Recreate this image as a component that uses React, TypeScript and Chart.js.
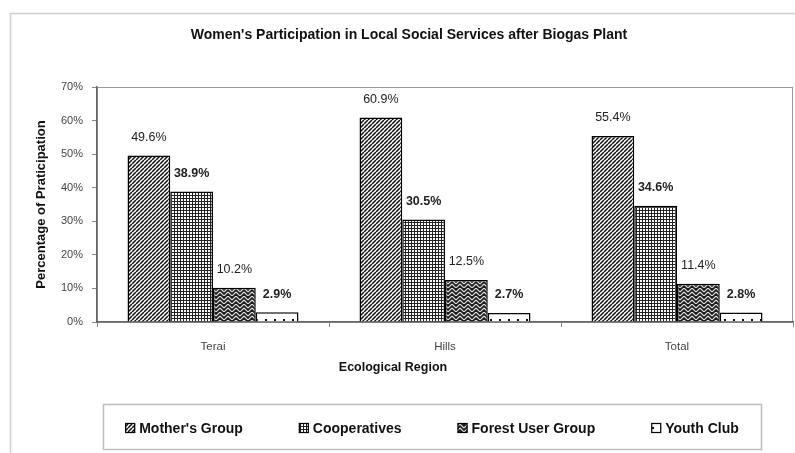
import React, { useEffect, useRef } from "react";
import { Chart, registerables } from "chart.js";

Chart.register(...registerables);

const TITLE = "Women's Participation in Local Social Services after Biogas Plant";
const X_TITLE = "Ecological Region";
const Y_TITLE = "Percentage of Praticipation";

const categories = ["Terai", "Hills", "Total"];
const seriesNames = ["Mother's Group", "Cooperatives", "Forest User Group", "Youth Club"];
const mothersGroup = [49.6, 60.9, 55.4];
const cooperatives = [38.9, 30.5, 34.6];
const forestUserGroup = [10.2, 12.5, 11.4];
const youthClub = [2.9, 2.7, 2.8];
const yTickLabels = ["0%", "10%", "20%", "30%", "40%", "50%", "60%", "70%"];
const labelBold = [false, true, false, true];

const FONT = "'Liberation Sans', Arial, Helvetica, sans-serif";

function makePattern(kind: string): CanvasPattern {
  const c = document.createElement("canvas");
  let s = 5;
  if (kind === "diag") s = 4;
  if (kind === "grid") s = 3;
  if (kind === "weave") s = 8;
  if (kind === "dots") s = 9;
  c.width = s;
  c.height = s;
  const g = c.getContext("2d")!;
  g.fillStyle = "#fff";
  g.fillRect(0, 0, s, s);
  if (kind === "diag") {
    g.strokeStyle = "#111";
    g.lineWidth = 1.5;
    g.beginPath();
    for (const k of [-s, 0, s]) {
      g.moveTo(k, s);
      g.lineTo(k + s, 0);
    }
    g.stroke();
  } else if (kind === "grid") {
    g.fillStyle = "#222";
    g.fillRect(0, 0, s, 1);
    g.fillRect(0, 0, 1, s);
  } else if (kind === "weave") {
    g.fillStyle = "#1e1e1e";
    g.fillRect(0, 0, s, s);
    g.strokeStyle = "#e0e0e0";
    g.lineWidth = 1.1;
    g.beginPath();
    g.moveTo(0, 4); g.lineTo(4, 0);
    g.moveTo(0, 8); g.lineTo(4, 4);
    g.moveTo(4, 0); g.lineTo(8, 4);
    g.moveTo(4, 4); g.lineTo(8, 8);
    g.stroke();
  } else if (kind === "dots") {
    g.fillStyle = "#111";
    g.fillRect(4, 4, 2, 2);
  }
  return g.createPattern(c, "repeat")!;
}

const decor = {
  id: "decor",
  beforeDraw(chart: any) {
    const ctx = chart.ctx as CanvasRenderingContext2D;
    const a = chart.chartArea;
    ctx.save();
    ctx.fillStyle = "#fff";
    ctx.fillRect(0, 0, chart.width, chart.height);
    // outer frame
    ctx.strokeStyle = "#cfcfcf";
    ctx.lineWidth = 1.5;
    ctx.beginPath();
    ctx.moveTo(10.5, chart.height + 5);
    ctx.lineTo(10.5, 13.5);
    ctx.lineTo(chart.width + 5, 13.5);
    ctx.stroke();
    // plot area border
    ctx.strokeStyle = "#999";
    ctx.lineWidth = 1;
    ctx.strokeRect(a.left + 0.5, a.top + 0.5, a.right - a.left - 1, a.bottom - a.top);
    ctx.restore();
  },
  afterDatasetsDraw(chart: any) {
    const ctx = chart.ctx as CanvasRenderingContext2D;
    ctx.save();
    ctx.fillStyle = "#222";
    ctx.textAlign = "center";
    ctx.textBaseline = "middle";
    chart.data.datasets.forEach((ds: any, di: number) => {
      const meta = chart.getDatasetMeta(di);
      ctx.font = `${labelBold[di] ? "bold " : ""}12.5px ${FONT}`;
      meta.data.forEach((el: any, i: number) => {
        const v = ds.data[i];
        ctx.fillText(v.toFixed(1) + "%", el.x, el.y - 18);
      });
    });
    ctx.restore();
  },
  afterDraw(chart: any) {
    const ctx = chart.ctx as CanvasRenderingContext2D;
    ctx.save();
    // title
    ctx.fillStyle = "#111";
    ctx.textAlign = "center";
    ctx.textBaseline = "middle";
    ctx.font = `bold 14px ${FONT}`;
    ctx.fillText(TITLE, 409, 35);
    // x axis title
    ctx.font = `bold 12.5px ${FONT}`;
    ctx.fillText(X_TITLE, 393, 368);
    // legend box
    ctx.strokeStyle = "#bdbdbd";
    ctx.lineWidth = 1.5;
    ctx.strokeRect(103.5, 404.5, 658, 45);
    // legend items
    ctx.font = `bold 14px ${FONT}`;
    const box = 10, gapIcon = 4, gapItem = 56;
    const widths = chart.data.datasets.map((ds: any) => box + gapIcon + ctx.measureText(ds.label).width);
    const total = widths.reduce((s: number, w: number) => s + w, 0) + gapItem * (widths.length - 1);
    let x = 432 - total / 2;
    const cy = 428;
    chart.data.datasets.forEach((ds: any, i: number) => {
      ctx.fillStyle = ds.backgroundColor;
      ctx.fillRect(x, cy - 5, box, box);
      ctx.strokeStyle = "#000";
      ctx.lineWidth = 1.2;
      ctx.strokeRect(x + 0.5, cy - 4.5, box - 1, box - 1);
      ctx.fillStyle = "#111";
      ctx.textAlign = "left";
      ctx.fillText(ds.label, x + box + gapIcon, cy + 1);
      x += widths[i] + gapItem;
    });
    ctx.restore();
  },
};

export default function App() {
  const ref = useRef<HTMLCanvasElement>(null);
  useEffect(() => {
    const canvas = ref.current!;
    const fills = [makePattern("diag"), makePattern("grid"), makePattern("weave"), makePattern("dots")];
    const values = [mothersGroup, cooperatives, forestUserGroup, youthClub];
    const chart = new Chart(canvas, {
      type: "bar",
      data: {
        labels: categories,
        datasets: seriesNames.map((name, i) => ({
          label: name,
          data: values[i],
          backgroundColor: fills[i] as any,
          borderColor: "#000",
          borderWidth: 1.5,
          categoryPercentage: 0.737,
          barPercentage: 1,
        })),
      },
      options: {
        responsive: false,
        animation: false,
        devicePixelRatio: 1,
        layout: { padding: { top: 87, right: 2, left: 0, bottom: 0 } },
        plugins: {
          legend: { display: false },
          title: { display: false },
          tooltip: { enabled: false },
        },
        scales: {
          x: {
            grid: { display: true, drawOnChartArea: false, drawTicks: true, tickLength: 5, color: "#888", offset: true },
            border: { display: true, color: "#666", width: 1.5 },
            ticks: { color: "#444", font: { family: FONT, size: 11.5 }, padding: 13 },
            afterFit: (s: any) => { s.height = 131; },
          },
          y: {
            min: 0,
            max: 70,
            ticks: {
              stepSize: 10,
              color: "#444",
              font: { family: FONT, size: 11 },
              padding: 9,
              callback: (_v: any, i: number) => yTickLabels[i],
            },
            grid: { drawOnChartArea: false, drawTicks: true, tickLength: 5, color: "#888" },
            border: { display: true, color: "#666", width: 1.5 },
            title: {
              display: true,
              text: Y_TITLE,
              color: "#111",
              font: { family: FONT, size: 13, weight: "bold" },
              padding: { top: 34, bottom: 0 },
            },
            afterFit: (s: any) => { s.width = 97; },
          },
        },
      },
      plugins: [decor],
    });
    return () => chart.destroy();
  }, []);
  return (
    <div style={{ position: "absolute", left: 0, top: 0, width: 795, height: 453 }}>
      <canvas ref={ref} width={795} height={453} style={{ display: "block", width: 795, height: 453 }} />
    </div>
  );
}
